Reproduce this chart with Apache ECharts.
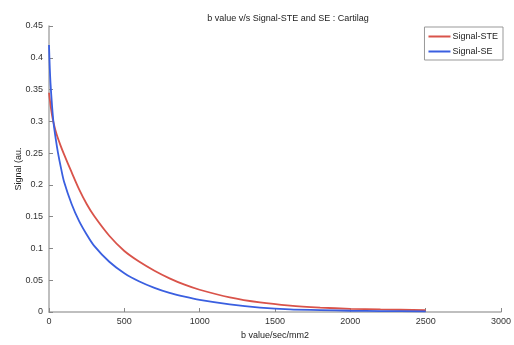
<!DOCTYPE html>
<html>
<head>
<meta charset="utf-8">
<script src="https://cdn.jsdelivr.net/npm/echarts@6/dist/echarts.min.js"></script>
<style>html,body{margin:0;padding:0;background:#fff}#c{width:514px;height:345px}</style>
</head>
<body>
<div id="c"></div>
<script>
var bSE  = [0, 5, 10, 20, 30, 45, 60, 80, 100, 150, 200, 250, 300, 400, 500, 600, 700, 800, 900, 1000, 1200, 1400, 1600, 1800, 2000, 2200, 2500];
var seVals = [0.42, 0.385, 0.36, 0.325, 0.298, 0.272, 0.250, 0.226, 0.205, 0.170, 0.143, 0.122, 0.104, 0.079, 0.061, 0.048, 0.038, 0.030, 0.024, 0.019, 0.012, 0.007, 0.004, 0.003, 0.002, 0.0015, 0.001];
var bSTE = [0, 10, 20, 30, 50, 75, 100, 150, 200, 250, 300, 400, 500, 600, 700, 800, 900, 1000, 1200, 1400, 1600, 1800, 2000, 2200, 2500];
var steVals = [0.345, 0.326, 0.310, 0.298, 0.280, 0.263, 0.248, 0.220, 0.193, 0.170, 0.151, 0.120, 0.096, 0.079, 0.065, 0.053, 0.043, 0.035, 0.023, 0.015, 0.010, 0.007, 0.005, 0.004, 0.003];
var seriesNames = ['Signal-STE', 'Signal-SE'];
var titleText = 'b value v/s Signal-STE and SE : Cartilag';
var xName = 'b value/sec/mm2';
var yName = 'Signal (au.';

function pairs(xs, ys){ return xs.map(function(x,i){ return [x, ys[i]]; }); }

var chart = echarts.init(document.getElementById('c'), null, {renderer:'canvas'});
var axisCommon = {
  axisLine: {show: true, lineStyle: {color: '#aaaaaa', width: 1.5}},
  axisTick: {show: true, inside: true, length: 4, lineStyle: {color: '#888'}},
  splitLine: {show: false}
};
chart.setOption({
  animation: false,
  backgroundColor: '#fff',
  title: {text: titleText, left: 283, top: 9, textAlign: 'center',
    textStyle: {fontSize: 9, fontWeight: 'normal', color: '#222', fontFamily: 'Liberation Sans'}},
  legend: {
    data: seriesNames, orient: 'vertical', right: 11, top: 27,
    itemWidth: 22, itemHeight: 2, itemGap: 6, icon: 'rect',
    borderColor: '#999', borderWidth: 1, padding: [5, 5, 4, 4], backgroundColor: '#fff',
    textStyle: {fontSize: 9, color: '#222', fontFamily: 'Liberation Sans', padding: [0,0,0,-3]}
  },
  grid: {left: 49, right: 9, top: 26, bottom: 24, containLabel: false},
  xAxis: Object.assign({type: 'value', min: 0, max: 3000, interval: 500,
    name: xName, nameLocation: 'middle', nameGap: 19,
    nameTextStyle: {fontSize: 9, color: '#222', fontFamily: 'Liberation Sans'}}, axisCommon,
    {axisLabel: {color: '#333', fontSize: 9, fontFamily: 'Liberation Sans', margin: 5,
      formatter: function(v){ return String(v); }}}),
  yAxis: Object.assign({type: 'value', min: 0, max: 0.45, interval: 0.05,
    name: yName, nameLocation: 'middle', nameGap: 26, nameMoveOverlap: false,
    nameTextStyle: {fontSize: 9, color: '#222', fontFamily: 'Liberation Sans'}}, axisCommon,
    {axisLabel: {color: '#333', fontSize: 9, fontFamily: 'Liberation Sans', margin: 6,
      formatter: function(v){ return String(+v.toFixed(2)); }}}),
  series: [
    {name: seriesNames[0], type: 'line', data: pairs(bSTE, steVals), smooth: 0.3, showSymbol: false,
     itemStyle: {color: '#d9534a'}, lineStyle: {color: '#d9534a', width: 1.8}},
    {name: seriesNames[1], type: 'line', data: pairs(bSE, seVals), smooth: 0.3, showSymbol: false,
     itemStyle: {color: '#3a5fe0'}, lineStyle: {color: '#3a5fe0', width: 1.8}}
  ]
});
</script>
</body>
</html>
